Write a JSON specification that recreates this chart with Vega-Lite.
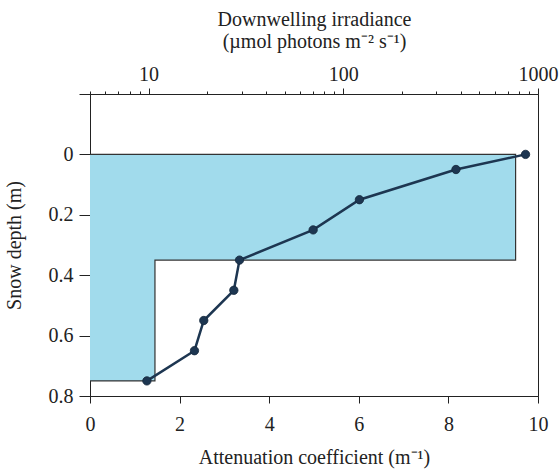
{
  "$schema": "https://vega.github.io/schema/vega-lite/v6.json",
  "width": 448,
  "height": 302,
  "autosize": {"type": "none"},
  "padding": {"left": 90, "top": 94, "right": 22, "bottom": 73},
  "config": {
    "font": "Liberation Serif",
    "view": {"stroke": "#222", "strokeWidth": 1},
    "axis": {
      "domainColor": "#222", "tickColor": "#222", "labelColor": "#222", "titleColor": "#222",
      "labelFontSize": 20, "titleFontSize": 20, "titleFontWeight": "normal",
      "labelFont": "Liberation Serif", "titleFont": "Liberation Serif",
      "grid": false, "labelFlush": false, "labelOverlap": false, "tickWidth": 1, "domainWidth": 1
    }
  },
  "datasets": {
    "blocks": [
      {"k0": 0, "k1": 9.5, "d0": 0, "d1": 0.35},
      {"k0": 0, "k1": 1.45, "d0": 0.35, "d1": 0.75}
    ],
    "outline": [
      {"i": 1, "k": 0, "d": 0},
      {"i": 2, "k": 9.5, "d": 0},
      {"i": 3, "k": 9.5, "d": 0.35},
      {"i": 4, "k": 1.45, "d": 0.35},
      {"i": 5, "k": 1.45, "d": 0.75},
      {"i": 6, "k": 0, "d": 0.75}
    ],
    "irr": [
      {"depth": 0, "irradiance": 863},
      {"depth": 0.05, "irradiance": 379},
      {"depth": 0.15, "irradiance": 121},
      {"depth": 0.25, "irradiance": 70},
      {"depth": 0.35, "irradiance": 29.3},
      {"depth": 0.45, "irradiance": 27.4},
      {"depth": 0.55, "irradiance": 19.2},
      {"depth": 0.65, "irradiance": 17.2},
      {"depth": 0.75, "irradiance": 9.8}
    ]
  },
  "layer": [
    {
      "layer": [
        {
          "data": {"name": "blocks"},
          "mark": {"type": "rect", "fill": "#a1dbec", "strokeWidth": 0},
          "encoding": {
            "x": {
              "field": "k0", "type": "quantitative",
              "scale": {"domain": [0, 10], "nice": false, "zero": false},
              "axis": {
                "orient": "bottom", "values": [0, 2, 4, 6, 8, 10], "tickSize": 7, "labelPadding": 11,
                "title": "Attenuation coefficient (m⁻¹)", "titleX": 224, "titleY": 67,
                "titleAlign": "center", "titleBaseline": "alphabetic"
              }
            },
            "x2": {"field": "k1"},
            "y": {
              "field": "d0", "type": "quantitative",
              "scale": {"domain": [-0.2, 0.8], "reverse": true, "nice": false, "zero": false},
              "axis": {
                "values": [-0.2, 0, 0.2, 0.4, 0.6, 0.8],
                "labelExpr": "datum.value < -0.1 ? '' : format(datum.value, '~g')",
                "tickSize": 11, "labelPadding": 6,
                "title": "Snow depth (m)", "titleX": -70, "titleY": 151, "titleAngle": 270,
                "titleAlign": "center", "titleBaseline": "alphabetic"
              }
            },
            "y2": {"field": "d1"}
          }
        },
        {
          "data": {"name": "outline"},
          "mark": {"type": "line", "color": "#333", "strokeWidth": 1.2},
          "encoding": {
            "x": {"field": "k", "type": "quantitative"},
            "y": {"field": "d", "type": "quantitative"},
            "order": {"field": "i", "type": "quantitative"}
          }
        }
      ]
    },
    {
      "data": {"name": "irr"},
      "layer": [
        {
          "mark": {"type": "line", "color": "#1d3651", "strokeWidth": 2.5},
          "encoding": {
            "x": {
              "field": "irradiance", "type": "quantitative",
              "scale": {"type": "log", "domain": [5, 1000], "nice": false},
              "axis": {
                "orient": "top",
                "values": [5, 6, 7, 8, 9, 10, 20, 30, 40, 50, 60, 70, 80, 90, 100, 200, 300, 400, 500, 600, 700, 800, 900, 1000],
                "labelExpr": "(datum.value == 10 || datum.value == 100 || datum.value == 1000) ? format(datum.value, 'd') : ''",
                "tickSize": {"condition": {"test": "datum.value == 10 || datum.value == 100 || datum.value == 1000", "value": 6}, "value": 3},
                "labelPadding": 4,
                "title": ["Downwelling irradiance", "(µmol photons m⁻² s⁻¹)"],
                "titleX": 224, "titleY": -69, "titleAlign": "center", "titleBaseline": "alphabetic",
                "titleLineHeight": 22
              }
            },
            "y": {"field": "depth", "type": "quantitative"},
            "order": {"field": "depth", "type": "quantitative"}
          }
        },
        {
          "mark": {"type": "point", "filled": true, "size": 70, "color": "#1d3651", "opacity": 1, "stroke": "#13263a", "strokeWidth": 0.8},
          "encoding": {
            "x": {"field": "irradiance", "type": "quantitative"},
            "y": {"field": "depth", "type": "quantitative"}
          }
        }
      ]
    }
  ],
  "resolve": {"scale": {"x": "independent"}}
}
